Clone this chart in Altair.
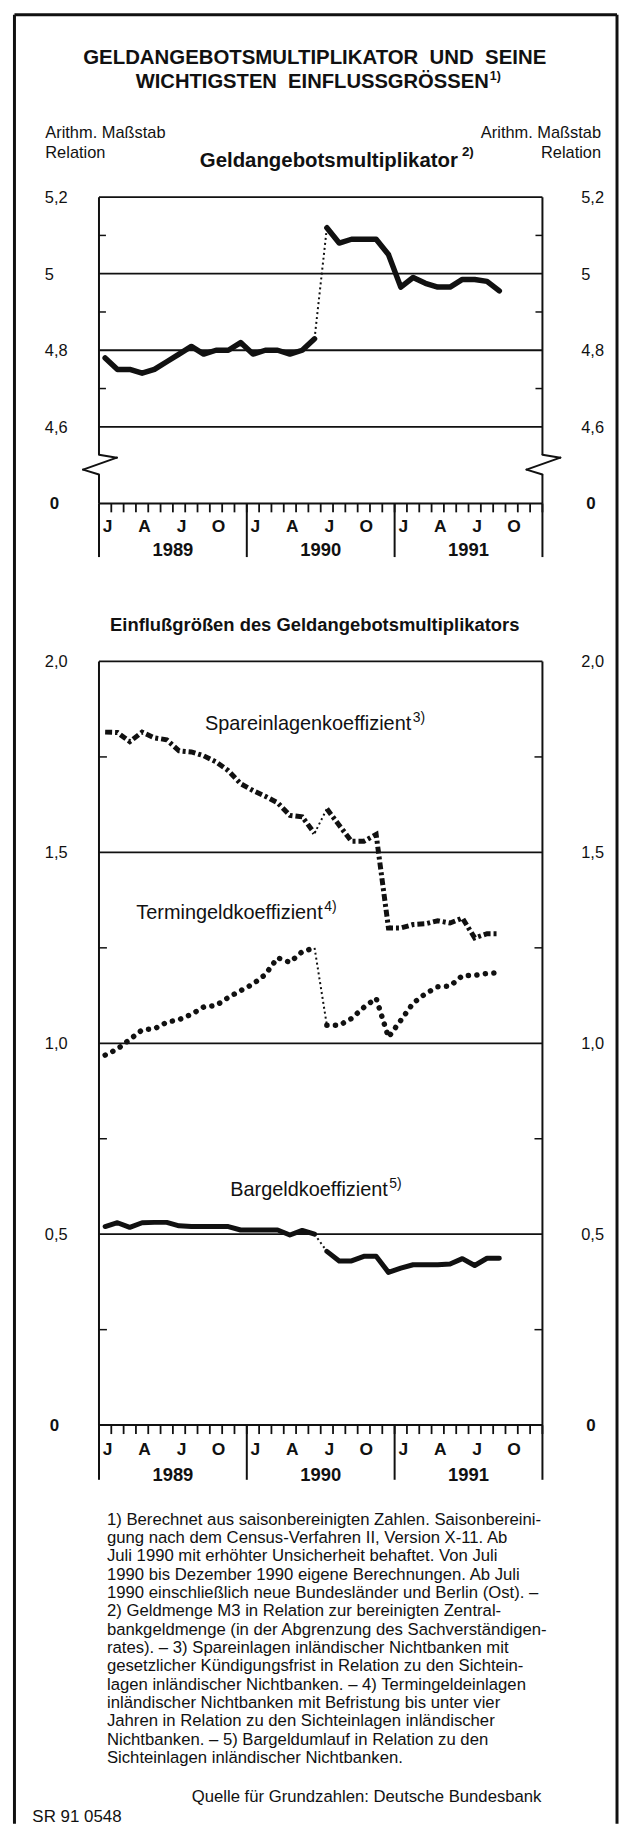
import altair as alt
import pandas as pd

FONT = "Liberation Sans"
INK = "#111111"

# ---------------- data (monthly, Jan 1989 .. Sep 1991) ----------------
geld = [4.78, 4.75, 4.75, 4.74, 4.75, 4.77, 4.79, 4.81, 4.79, 4.80, 4.80, 4.82,
        4.79, 4.80, 4.80, 4.79, 4.80, 4.83, 5.12, 5.08, 5.09, 5.09, 5.09, 5.05,
        4.965, 4.99, 4.975, 4.965, 4.965, 4.985, 4.985, 4.98, 4.955]
spar = [1.815, 1.814, 1.79, 1.815, 1.80, 1.795, 1.766, 1.763, 1.753, 1.737, 1.714, 1.68,
        1.662, 1.647, 1.63, 1.597, 1.593, 1.55, 1.614, 1.571, 1.529, 1.529, 1.547, 1.302,
        1.302, 1.311, 1.313, 1.321, 1.315, 1.328, 1.276, 1.287, 1.287]
termin = [0.969, 0.985, 1.01, 1.035, 1.038, 1.055, 1.062, 1.076, 1.095, 1.099, 1.12, 1.138,
          1.155, 1.18, 1.224, 1.212, 1.24, 1.25, 1.047, 1.047, 1.065, 1.094, 1.118, 1.016,
          1.06, 1.105, 1.13, 1.148, 1.15, 1.177, 1.178, 1.183, 1.185]
bargeld = [0.52, 0.53, 0.518, 0.53, 0.531, 0.531, 0.522, 0.52, 0.52, 0.52, 0.52, 0.511,
           0.511, 0.511, 0.511, 0.498, 0.51, 0.50, 0.455, 0.43, 0.43, 0.442, 0.442, 0.40,
           0.411, 0.42, 0.42, 0.42, 0.422, 0.436, 0.418, 0.437, 0.437]
BREAK = 18  # July 1990: start of the all-German series

month_letters = ["J", "A", "J", "O"] * 3
month_letter_idx = [0, 3, 6, 9, 12, 15, 18, 21, 24, 27, 30, 33]
years = ["1989", "1990", "1991"]
year_mid = [6, 18, 30]
month_bounds = list(range(37))
year_bounds = [0, 12, 24, 36]

top_ticks = [5.2, 5.0, 4.8, 4.6]
top_tick_labels = ["5,2", "5", "4,8", "4,6"]
top_minor = [5.1, 4.9, 4.7]
top_floor = 4.4
bot_ticks = [2.0, 1.5, 1.0, 0.5]
bot_tick_labels = ["2,0", "1,5", "1,0", "0,5"]
bot_minor = [1.75, 1.25, 0.75, 0.25]

series_labels = [("Spareinlagenkoeffizient", "3)", 25.35, 1.835, 1.852),
                 ("Termingeldkoeffizient", "4)", 18.16, 1.340, 1.357),
                 ("Bargeldkoeffizient", "5)", 23.45, 0.615, 0.632)]

footnote = [
    "1) Berechnet aus saisonbereinigten Zahlen. Saisonbereini-",
    "gung nach dem Census-Verfahren II, Version X-11. Ab",
    "Juli 1990 mit erhöhter Unsicherheit behaftet. Von Juli",
    "1990 bis Dezember 1990 eigene Berechnungen. Ab Juli",
    "1990 einschließlich neue Bundesländer und Berlin (Ost). –",
    "2) Geldmenge M3 in Relation zur bereinigten Zentral-",
    "bankgeldmenge (in der Abgrenzung des Sachverständigen-",
    "rates). – 3) Spareinlagen inländischer Nichtbanken mit",
    "gesetzlicher Kündigungsfrist in Relation zu den Sichtein-",
    "lagen inländischer Nichtbanken. – 4) Termingeldeinlagen",
    "inländischer Nichtbanken mit Befristung bis unter vier",
    "Jahren in Relation zu den Sichteinlagen inländischer",
    "Nichtbanken. – 5) Bargeldumlauf in Relation zu den",
    "Sichteinlagen inländischer Nichtbanken.",
]

# ---------------- layout ----------------
W = 446
H1 = 308
H2 = 768
ONE = pd.DataFrame({"k": [0]})


def X():
    return alt.X("m:Q", scale=alt.Scale(domain=[0, 36], nice=False, zero=False), axis=None)


def Y(dom):
    return alt.Y("v:Q", scale=alt.Scale(domain=dom, nice=False, zero=False), axis=None)


def seg(x, y, x2, y2, w=2.0, cap="butt"):
    return alt.Chart(ONE).mark_rule(color=INK, strokeWidth=w, strokeCap=cap).encode(
        x=alt.value(x), y=alt.value(y), x2=alt.value(x2), y2=alt.value(y2))


def txt(s, x, y, size, weight="normal", align="left", baseline="middle", **kw):
    return alt.Chart(ONE).mark_text(text=s, font=FONT, fontSize=size, fontWeight=weight,
                                    align=align, baseline=baseline, color=INK, **kw).encode(
        x=alt.value(x), y=alt.value(y))


def hlines(vals, dom, x0, x1, w):
    return alt.Chart(pd.DataFrame({"v": vals})).mark_rule(color=INK, strokeWidth=w).encode(
        y=Y(dom), x=alt.value(x0), x2=alt.value(x1))


def xaxis(h, lab_off, year_off, sep_len):
    lay = []
    lay.append(alt.Chart(pd.DataFrame({"m": month_bounds})).mark_rule(color=INK, strokeWidth=1.8).encode(
        x=X(), y=alt.value(h), y2=alt.value(h + 9)))
    lay.append(alt.Chart(pd.DataFrame({"m": year_bounds})).mark_rule(color=INK, strokeWidth=2).encode(
        x=X(), y=alt.value(h), y2=alt.value(h + sep_len)))
    ml = pd.DataFrame({"m": [i + 0.5 for i in month_letter_idx], "t": month_letters})
    lay.append(alt.Chart(ml).mark_text(font=FONT, fontSize=17.5, fontWeight="bold", color=INK,
                                       baseline="middle", dx=2.5).encode(
        x=X(), y=alt.value(h + lab_off), text="t:N"))
    yl = pd.DataFrame({"m": year_mid, "t": years})
    lay.append(alt.Chart(yl).mark_text(font=FONT, fontSize=18.5, fontWeight="bold", color=INK,
                                       baseline="middle").encode(
        x=X(), y=alt.value(h + year_off), text="t:N"))
    return lay


def ylabels(vals, labs, dom, h):
    df = pd.DataFrame({"v": vals, "t": labs})
    lay = []
    for xp in (-54.5, 485):
        lay.append(alt.Chart(df).mark_text(font=FONT, fontSize=16.5, color=INK, align="left",
                                           baseline="middle", dy=1).encode(
            y=Y(dom), x=alt.value(xp), text="t:N"))
        lay.append(txt("0", xp + 5, h + 1, 17, weight="bold"))
    return lay


def series(vals, dom, style):
    df = pd.DataFrame({"m": [i + 0.5 for i in range(len(vals))], "v": vals})
    pre, post, conn = df.iloc[:BREAK], df.iloc[BREAK:], df.iloc[BREAK - 1:BREAK + 1]
    lay = []
    for part in (pre, post):
        lay.append(alt.Chart(part).mark_line(color=INK, **style).encode(x=X(), y=Y(dom)))
    lay.append(alt.Chart(conn).mark_line(color=INK, strokeWidth=2, strokeDash=[2, 3]).encode(
        x=X(), y=Y(dom)))
    return lay


# ---------------- top panel ----------------
TD = [top_floor, 5.2]
top = []
# outer frame of the whole figure
FR_T, FR_B, FR_L, FR_R = -183.5, 1636, -85, 521
top += [seg(FR_L, FR_T, FR_R, FR_T, 3), seg(FR_L, FR_T, FR_L, FR_B, 3), seg(FR_R, FR_T, FR_R, FR_B, 3)]
# grid and borders
top.append(hlines(top_ticks, TD, 0, W, 1.8))
top.append(hlines([top_floor], TD, 0, W, 2))
top.append(hlines(top_minor, TD, 0, 7, 1.5))
top.append(hlines(top_minor, TD, W - 7, W, 1.5))
for bx in (0, W):
    top += [seg(bx, 0, bx, 259, 2), seg(bx, 279, bx, H1, 2),
            seg(bx, 259, bx + 18, 262, 2, "round"), seg(bx + 18, 262, bx - 16, 274, 2, "round"),
            seg(bx - 16, 274, bx, 279, 2, "round")]
top += xaxis(H1, 23.5, 47, 54)
top += ylabels(top_ticks, top_tick_labels, TD, H1)
top += series(geld, TD, dict(strokeWidth=5.5, strokeJoin="round", strokeCap="round"))
# titles
top.append(txt("GELDANGEBOTSMULTIPLIKATOR \u00a0UND \u00a0SEINE", 217, -139.5, 20.5, "bold", "center"))
top.append(txt("WICHTIGSTEN \u00a0EINFLUSSGRÖSSEN", 392, -115.5, 20.3, "bold", "right"))
top.append(txt("1)", 393, -122, 12.5, "bold", "left"))
top.append(txt("Arithm. Maßstab", -54, -64.5, 16.5))
top.append(txt("Relation", -54, -44.5, 16.5))
top.append(txt("Arithm. Maßstab", 505, -64.5, 16.5, align="right"))
top.append(txt("Relation", 505, -44.5, 16.5, align="right"))
top.append(txt("Geldangebotsmultiplikator", 361, -36, 20.5, "bold", "right"))
top.append(txt("2)", 365, -45, 13.5, "bold", "left"))

top_chart = alt.layer(*top).properties(width=W, height=H1)

# ---------------- bottom panel ----------------
BD = [0, 2.0]
bot = []
bot.append(hlines(bot_ticks, BD, 0, W, 1.8))
bot.append(hlines([0], BD, 0, W, 2))
bot.append(hlines(bot_minor, BD, 0, 8, 1.5))
bot.append(hlines(bot_minor, BD, W - 8, W, 1.5))
bot += [seg(0, 0, 0, H2, 2), seg(W, 0, W, H2, 2)]
bot += xaxis(H2, 25, 50, 55)
bot += ylabels(bot_ticks, bot_tick_labels, BD, H2)
bot += series(spar, BD, dict(strokeWidth=5, strokeDash=[7, 3, 3, 3], strokeCap="butt"))
bot += series(termin, BD, dict(strokeWidth=5.5, strokeDash=[0.1, 8.5], strokeCap="round"))
bot += series(bargeld, BD, dict(strokeWidth=5, strokeJoin="round", strokeCap="round"))
for name, sup, m, v, vs in series_labels:
    bot.append(alt.Chart(pd.DataFrame({"m": [m], "v": [v]})).mark_text(
        text=name, font=FONT, fontSize=20, align="right", baseline="middle", color=INK).encode(
        x=X(), y=Y(BD)))
    bot.append(alt.Chart(pd.DataFrame({"m": [m], "v": [vs]})).mark_text(
        text=sup, font=FONT, fontSize=14, align="left", baseline="middle", color=INK, dx=1.5).encode(
        x=X(), y=Y(BD)))
bot.append(txt("Einflußgrößen des Geldangebotsmultiplikators", 217, -37, 18.5, "bold", "center"))
bot.append(alt.Chart(ONE).mark_text(text=footnote, font=FONT, fontSize=16.8, lineHeight=18.46,
                                    align="left", baseline="alphabetic", color=INK).encode(
    x=alt.value(8), y=alt.value(868)))
bot.append(txt("Quelle für Grundzahlen: Deutsche Bundesbank", 445, 1147, 16.8, align="right",
               baseline="alphabetic"))
bot.append(txt("SR 91 0548", -67, 1167, 17, baseline="alphabetic"))

bot_chart = alt.layer(*bot).properties(width=W, height=H2)

chart = alt.vconcat(top_chart, bot_chart, spacing=159, bounds="flush").properties(
    padding={"left": 4.5, "top": 0, "right": 0, "bottom": 0},
    background="white",
).configure_view(stroke=None)

chart.save("out.html", embed_options={"renderer": "svg", "actions": False})
